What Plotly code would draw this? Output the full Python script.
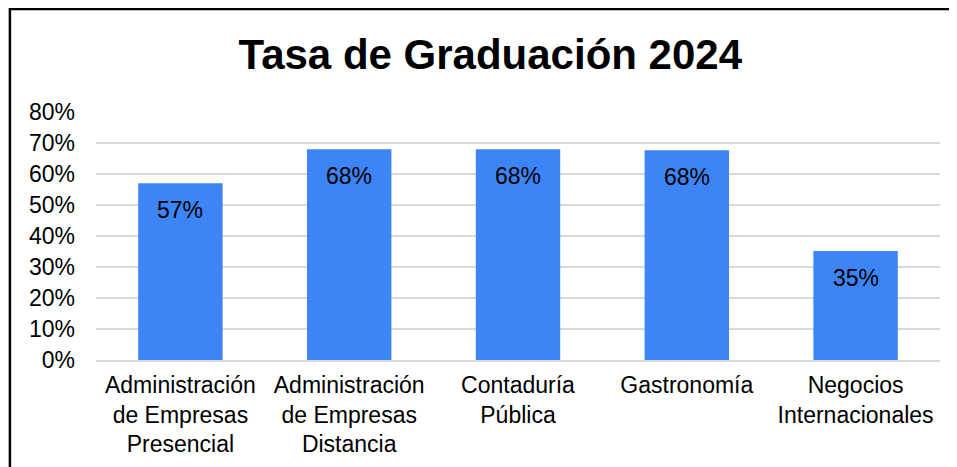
import plotly.graph_objects as go

programas = [
    "Administración<br>de Empresas<br>Presencial",
    "Administración<br>de Empresas<br>Distancia",
    "Contaduría<br>Pública",
    "Gastronomía",
    "Negocios<br>Internacionales",
]
tasa = [0.57, 0.68, 0.68, 0.677, 0.352]

fig = go.Figure()
fig.add_trace(go.Bar(
    x=programas, y=tasa,
    marker=dict(color="#3D84F7", line_width=0),
    cliponaxis=False,
))

# etiquetas de datos dentro de la barra, cerca del extremo
for p, v in zip(programas, tasa):
    fig.add_annotation(x=p, y=v, text=f"{v:.0%}", showarrow=False,
                       yanchor="middle", yshift=-27,
                       font=dict(size=23, color="black"))

fig.update_layout(
    width=957, height=467,
    margin=dict(l=88, r=25, t=104, b=115),
    paper_bgcolor="white", plot_bgcolor="white",
    font=dict(family="Liberation Sans, Arial", size=23, color="black"),
    title=dict(text="<b>Tasa de Graduación 2024</b>", x=0.504, xanchor="center",
               y=0.9, yanchor="middle", font=dict(size=42, color="black")),
    bargap=0.5,
    showlegend=False,
)
fig.update_yaxes(range=[0, 0.8], dtick=0.1, tickformat=".0%",
                 showgrid=True, gridcolor="#D9D9D9", gridwidth=2,
                 zeroline=False, ticks="", ticklabelstandoff=20)
fig.update_xaxes(showline=True, linecolor="#D9D9D9", linewidth=2, ticks="",
                 ticklabelstandoff=3)

# marco exterior
fig.add_shape(type="rect", xref="paper", yref="paper",
              x0=-0.102, x1=1.06, y0=-0.5, y1=1.415,
              line=dict(color="black", width=2.5), layer="above")

fig.write_html("out.html")
